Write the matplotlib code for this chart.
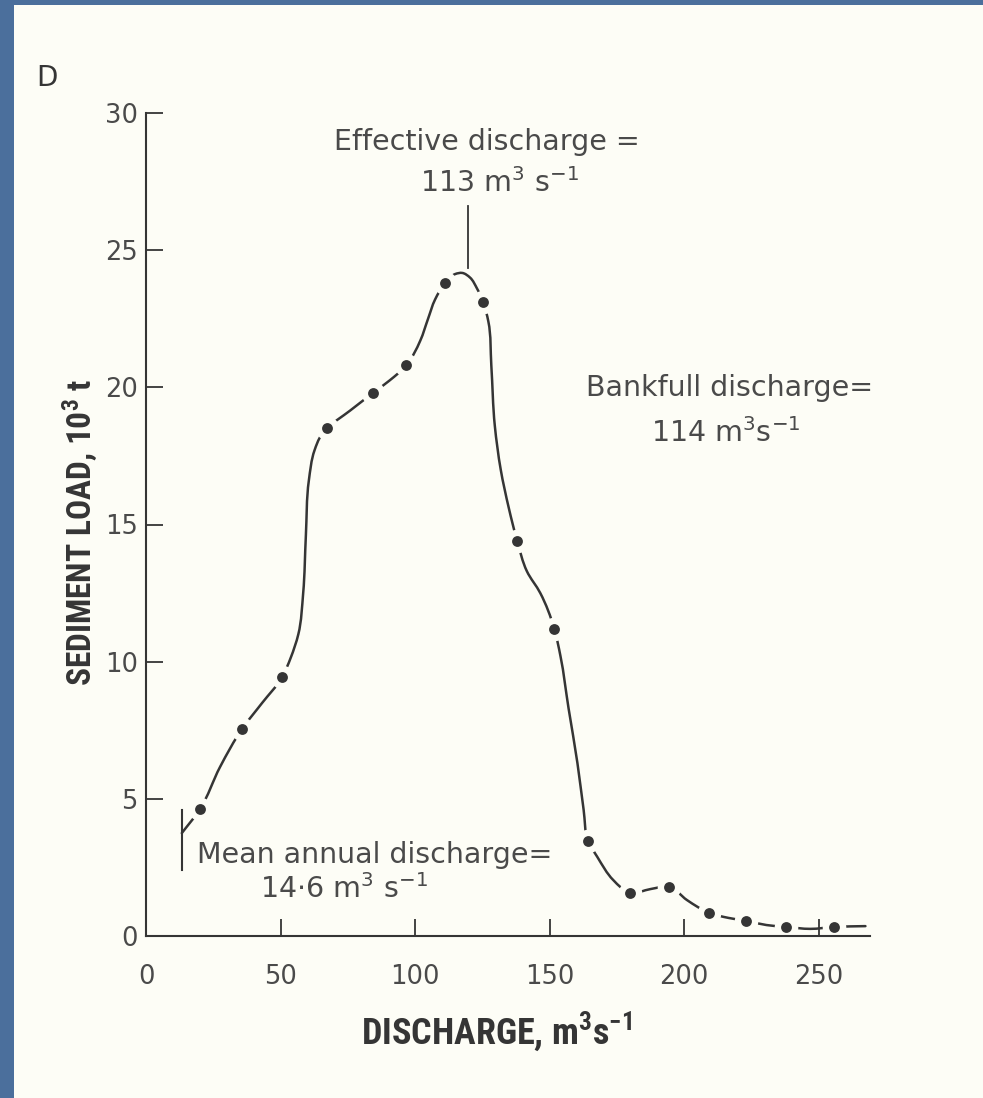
import numpy as np
import matplotlib
matplotlib.use("Agg")
import matplotlib.pyplot as plt
from matplotlib.path import Path
from matplotlib.patches import PathPatch, Rectangle
from matplotlib import font_manager as fm

# ---------------- data ----------------
discharge = [20.1, 35.7, 50.6, 67.3, 84.4, 96.7, 111.2, 125.3, 137.9, 151.7,
             164.3, 179.9, 194.4, 209.3, 223.0, 237.9, 255.8]
sediment_load = [4.63, 7.55, 9.44, 18.5, 19.8, 20.8, 23.8, 23.1, 14.4, 11.2,
                 3.46, 1.57, 1.79, 0.84, 0.55, 0.33, 0.33]

# hand-drawn curve
curve_x = [13.3, 20.1, 27.5, 35.7, 43.1, 50.6, 53.8, 56.6, 58.4, 59.4, 60.5,
           62.6, 65.1, 67.3, 75.8, 84.4, 90.5, 96.7, 101.9, 104.8, 107.4, 111.2,
           114.9, 117.5, 120.4, 123.0, 125.3, 127.2, 128.3, 129.6, 131.8,
           134.8, 137.9, 141.5, 146.5, 151.7, 154.0, 157.0, 160.3, 162.6, 164.3,
           167.7, 173.6, 179.9, 187.4, 194.4, 201.0, 209.3, 216.4, 223.0, 230.5,
           237.9, 246.8, 255.8, 267.3]
curve_y = [3.75, 4.63, 6.16, 7.55, 8.49, 9.44, 10.15, 11.0, 12.5, 14.6, 16.6,
           17.7, 18.25, 18.5, 19.15, 19.8, 20.25, 20.8, 21.7, 22.5, 23.2, 23.8,
           24.13, 24.17, 24.0, 23.6, 23.1, 22.4, 20.8, 18.6, 17.0,
           15.6, 14.4, 13.3, 12.5, 11.2, 10.2, 8.3, 6.3, 4.6, 3.46,
           2.88, 2.04, 1.57, 1.71, 1.79, 1.31, 0.84, 0.66, 0.55, 0.40,
           0.33, 0.26, 0.33, 0.36]

x_ticks = [0, 50, 100, 150, 200, 250]
y_ticks = [0, 5, 10, 15, 20, 25, 30]

mean_annual_q = 13.3        # marker position as drawn
mean_marker_y = [2.4, 4.6]
effective_q = 119.7         # marker position as drawn
effective_marker_y = [24.35, 26.6]

# ---------------- styling ----------------
PAPER = "#fdfdf6"
BLUE = "#4b6f9c"
INK = "#353535"
TEXT = "#4a4a4a"

names = {f.name for f in fm.fontManager.ttflist}
if "Liberation Sans Narrow" in names:
    label_kw = dict(family="Liberation Sans Narrow", fontweight="bold")
elif "Roboto Condensed" in names:
    label_kw = dict(family="Roboto Condensed", fontweight="bold")
else:
    label_kw = dict(family="DejaVu Sans", fontweight="bold", fontstretch="condensed")

ann_font = "DejaVu Sans"

W, H = 983, 1098
fig = plt.figure(figsize=(W / 100, H / 100), dpi=100)
fig.patch.set_facecolor(BLUE)
fig.patches.append(Rectangle((14 / W, 0), 1 - 14 / W, 1 - 5 / H,
                             transform=fig.transFigure, facecolor=PAPER,
                             edgecolor="none", zorder=-10))

x0, x1 = 146, 870
ytop, ybot = 113, 936
ax = fig.add_axes([x0 / W, 1 - ybot / H, (x1 - x0) / W, (ybot - ytop) / H])
ax.set_facecolor("none")
ax.set_xlim(0, 269)
ax.set_ylim(0, 30)
for s in ["top", "right"]:
    ax.spines[s].set_visible(False)
for s in ["left", "bottom"]:
    ax.spines[s].set_color(INK)
    ax.spines[s].set_linewidth(1.5)
    ax.spines[s].set_zorder(5)

ax.set_xticks(x_ticks)
ax.set_yticks(y_ticks)
ax.tick_params(direction="in", length=12.5, width=1.3, color=INK,
               labelcolor=TEXT, labelsize=18.5)
ax.tick_params(axis="x", pad=20)
ax.tick_params(axis="y", pad=6)
for lab in ax.get_xticklabels() + ax.get_yticklabels():
    lab.set_family("DejaVu Sans")
ax.xaxis.set_zorder(5)
ax.yaxis.set_zorder(5)


def smooth_path(xs, ys):
    """Smooth Bezier through the traced points (Bessel tangents, display space)."""
    P = ax.transData.transform(np.column_stack([xs, ys]))
    n = len(P)
    seg = P[1:] - P[:-1]
    L = np.linalg.norm(seg, axis=1)
    D = seg / L[:, None]
    T = np.zeros_like(P)
    T[0] = D[0]
    T[-1] = D[-1]
    for i in range(1, n - 1):
        t = (L[i] * D[i - 1] + L[i - 1] * D[i]) / (L[i - 1] + L[i])
        T[i] = t / np.linalg.norm(t)
    verts = [P[0]]
    codes = [Path.MOVETO]
    for i in range(n - 1):
        verts += [P[i] + T[i] * L[i] / 3, P[i + 1] - T[i + 1] * L[i] / 3, P[i + 1]]
        codes += [Path.CURVE4] * 3
    verts = ax.transData.inverted().transform(np.array(verts))
    return Path(verts, codes)


ax.add_patch(PathPatch(smooth_path(curve_x, curve_y), fill=False,
                       edgecolor=INK, linewidth=1.8, zorder=2,
                       capstyle="round"))
# gaps around the dots, then the dots
ax.plot(discharge, sediment_load, "o", ms=17, color=PAPER, mec="none", zorder=3,
        clip_on=False)
ax.plot(discharge, sediment_load, "o", ms=7.8, color=INK, mec="none", zorder=6,
        clip_on=False)

# marker lines
ax.plot([mean_annual_q, mean_annual_q], mean_marker_y, color=INK, lw=1.5, zorder=2)
ax.plot([effective_q, effective_q], effective_marker_y, color=INK, lw=1.3, zorder=2)

# annotations
ann = dict(color=TEXT, family=ann_font, fontsize=20.5)
ax.text(126.8, 28.65, "Effective discharge =", ha="center", va="baseline", **ann)
ax.text(131.4, 27.12, r"113 $\mathregular{m^3\ s^{-1}}$", ha="center", va="baseline", **ann)
ax.text(216.8, 19.7, "Bankfull discharge=", ha="center", va="baseline", **ann)
ax.text(215.5, 18.0, r"114 $\mathregular{m^3 s^{-1}}$", ha="center", va="baseline", **ann)
ax.text(19.0, 2.66, "Mean annual discharge=", ha="left", va="baseline", **ann)
ax.text(42.4, 1.39, r"14$\cdot$6 $\mathregular{m^3\ s^{-1}}$", ha="left", va="baseline", **ann)

# axis labels
fig.text(496 / W, 1 - 1032 / H, r"DISCHARGE, $\mathregular{m^3s^{-1}}$",
         ha="center", va="center", color=INK, fontsize=26, **label_kw)
fig.text(80 / W, 1 - 532 / H, r"SEDIMENT LOAD, $\mathregular{10^3}$ t",
         ha="center", va="center", rotation=90, color=INK, fontsize=24, **label_kw)
fig.text(47 / W, 1 - 78 / H, "D", ha="center", va="center", color=INK,
         fontsize=20, family="DejaVu Sans")

fig.savefig("out.png", dpi=100, facecolor=fig.get_facecolor())
